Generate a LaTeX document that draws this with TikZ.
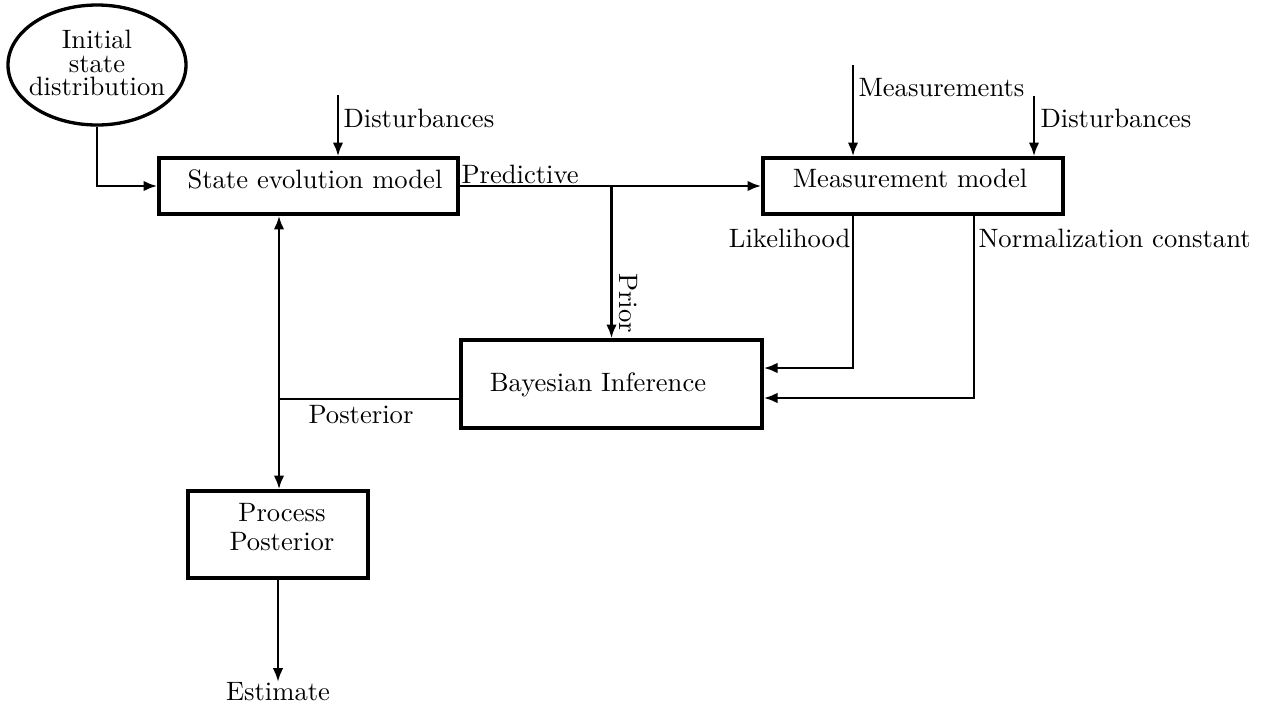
\documentclass[tikz,border=0pt]{standalone}
\usetikzlibrary{arrows.meta,shapes.geometric}
\begin{document}
\begin{tikzpicture}[x=0.376pt,y=-0.376pt,
  box/.style={draw,line width=1.25pt,inner sep=0pt},
  arr/.style={line width=1.1pt,-{Latex[length=5.2pt,width=4pt]}},
  ln/.style={line width=1.1pt},
  lbl/.style={inner sep=0pt,font=\fontsize{10}{12}\selectfont}]
\useasboundingbox (0,0) rectangle (1263,706);
% nodes
\node[draw,ellipse,line width=1.25pt,minimum width=178*0.376pt,minimum height=120*0.376pt,inner sep=0pt] (init) at (97,65) {};
\node[lbl,align=center,font=\fontsize{10}{8.8}\selectfont] (initt) at (97,63) {Initial\\state\\distribution};
\node[box,minimum width=299*0.376pt,minimum height=56*0.376pt] (sem) at (308.5,186) {};
\node[lbl] (semt) at (315,179) {State evolution model};
\node[box,minimum width=300*0.376pt,minimum height=56*0.376pt] (mm) at (913,186) {};
\node[lbl] (mmt) at (910,178) {Measurement model};
\node[box,minimum width=301*0.376pt,minimum height=88*0.376pt] (bi) at (611.5,384) {};
\node[lbl] (bit) at (598,385) {Bayesian Inference};
\node[box,minimum width=180*0.376pt,minimum height=87*0.376pt] (pp) at (278,534.5) {};
\node[lbl,align=center,font=\fontsize{10}{10.9}\selectfont] (ppt) at (282,527) {Process\\Posterior};
\node[lbl,anchor=north] (est) at (278,682) {Estimate};
% labels
\node[lbl,anchor=west] (dl) at (343,118) {Disturbances};
\node[lbl,anchor=west] (dr) at (1040,118) {Disturbances};
\node[lbl,anchor=west] (ms) at (858,88) {Measurements};
\node[lbl,anchor=west] (pr) at (461,174) {Predictive};
\node[lbl,rotate=-90] (pri) at (628,303) {Prior};
\node[lbl,anchor=east] (lkl) at (851,238) {Likelihood};
\node[lbl,anchor=west] (nc) at (978,238) {Normalization constant};
\node[lbl] (pos) at (361,415) {Posterior};
% coordinates
\coordinate (d1) at (338,95);
\coordinate (d2) at (1034,96);
\coordinate (m1) at (853,65);
\coordinate (j) at (611.5,186);
\coordinate (lk) at (853,368);
\coordinate (nk) at (974,398);
\coordinate (pj) at (279,399);
% connectors
\draw[arr] (init.south) |- (sem.west);
\draw[arr] (d1) -- (d1 |- sem.north);
\draw[arr] (d2) -- (d2 |- mm.north);
\draw[arr] (m1) -- (m1 |- mm.north);
\draw[arr] (sem.east) -- (mm.west);
\draw[arr] (j) -- (bi.north);
\draw[arr] (lk |- mm.south) -- (lk) -- (lk -| bi.east);
\draw[arr] (nk |- mm.south) -- (nk) -- (nk -| bi.east);
\draw[ln] (pj -| bi.west) -- (pj);
\draw[arr] (pj) -- (pj |- sem.south);
\draw[arr] (pj) -- (pj |- pp.north);
\draw[arr] (pp.south) -- (est.north);
\end{tikzpicture}
\end{document}
